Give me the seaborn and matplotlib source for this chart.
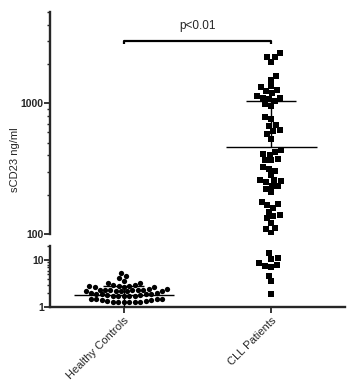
import matplotlib
matplotlib.use("Agg")
import pandas as pd
import matplotlib.pyplot as plt
from matplotlib.ticker import FuncFormatter, NullFormatter
import seaborn as sns

# Groups and values (ng/ml)
groups = ["Healthy Controls", "CLL Patients"]

healthy_values = [
    5.3, 4.6, 4.1, 3.6,
    3.2, 3.2, 3.0, 2.9, 2.8, 2.8, 2.7, 2.7, 2.7, 2.8,
    2.4, 2.35, 2.3, 2.25, 2.2, 2.2, 2.15, 2.15, 2.2, 2.25, 2.3, 2.35, 2.4,
    1.95, 1.9, 1.85, 1.8, 1.75, 1.7, 1.7, 1.7, 1.75, 1.8, 1.85, 1.9, 1.95,
    1.5, 1.45, 1.4, 1.35, 1.3, 1.28, 1.25, 1.25, 1.28, 1.3, 1.35, 1.4, 1.45, 1.5,
]

cll_values = [
    2420, 2260, 2250, 2070,
    1610, 1520, 1365, 1330, 1255, 1240, 1200, 1145, 1105, 1100, 1085, 1035, 990,
    950, 790, 765,
    680, 670, 622, 618, 587, 538,
    438, 425, 408, 406, 372, 367, 366,
    326, 313, 305,
    282, 258, 257, 256, 248, 234, 233, 221, 208,
    175, 169, 167, 159, 147, 140, 137, 132,
    121, 111, 109, 102,
    13.9, 10.9, 10.5, 8.5, 7.8, 7.6, 7.0, 4.6, 3.5, 1.9,
]

# Summary bars as drawn in the figure (mean line and upper error bar)
healthy_mean = 1.8
healthy_sd = 0.96
cll_mean = 467
cll_sd = 573

p_label = "p<0.01"
y_label = "sCD23 ng/ml"

top_range = (100, 5000)
bottom_range = (1, 20)

df = pd.DataFrame({
    "group": [groups[0]] * len(healthy_values) + [groups[1]] * len(cll_values),
    "value": healthy_values + cll_values,
})

sns.set_style("ticks")
plt.rcParams["font.family"] = ["Liberation Sans", "DejaVu Sans"]

fig = plt.figure(figsize=(3.53, 3.83), dpi=100)
ax_top = fig.add_axes([0.1416, 0.389, 0.8357, 0.5796])
ax_bot = fig.add_axes([0.1416, 0.1984, 0.8357, 0.1593])

for ax in (ax_top, ax_bot):
    ax.set_yscale("log")

top_df = df[df["value"] >= top_range[0]]
bot_df = df[df["value"] < bottom_range[1]]

markers = {groups[0]: "o", groups[1]: "s"}
sizes = {groups[0]: 3.8, groups[1]: 4.4}

for ax, sub in ((ax_top, top_df), (ax_bot, bot_df)):
    for g in groups:
        part = sub[sub["group"] == g]
        if part.empty:
            continue
        sns.swarmplot(data=part, x="group", y="value", order=groups,
                      marker=markers[g], size=sizes[g], color="black",
                      linewidth=0, ax=ax)

# mean / SD lines
line_kw = dict(color="black", lw=1, zorder=4)
ax_bot.hlines(healthy_mean, -0.34, 0.34, **line_kw)
ax_bot.vlines(0, healthy_mean - healthy_sd, healthy_mean + healthy_sd, **line_kw)
ax_bot.hlines(healthy_mean + healthy_sd, -0.14, 0.14, **line_kw)

ax_top.hlines(cll_mean, 1 - 0.31, 1 + 0.31, **line_kw)
ax_top.vlines(1, cll_mean, cll_mean + cll_sd, **line_kw)
ax_top.hlines(cll_mean + cll_sd, 1 - 0.17, 1 + 0.17, **line_kw)

# significance bracket
ax_top.plot([0, 0, 1, 1], [2830, 3000, 3000, 2830], color="black", lw=1.6,
            solid_capstyle="butt", clip_on=False)
ax_top.text(0.5, 3900, p_label, ha="center", va="center", fontsize=8.5)

# axes styling
ax_top.set_ylim(*top_range)
ax_bot.set_ylim(*bottom_range)
for ax in (ax_top, ax_bot):
    ax.set_xlim(-0.5, 1.5)
    ax.set_xlabel("")
    ax.set_ylabel("")
    ax.yaxis.set_major_formatter(FuncFormatter(lambda v, _: f"{v:g}"))
    ax.yaxis.set_minor_formatter(NullFormatter())
    ax.tick_params(axis="y", which="major", length=4, width=1.3, labelsize=7.5, pad=0.5)
    ax.tick_params(axis="y", which="minor", length=2.2, width=1.0)
    for lab in ax.get_yticklabels():
        lab.set_fontweight("bold")
    ax.spines["left"].set_linewidth(1.7)

sns.despine(ax=ax_top, bottom=True)
sns.despine(ax=ax_bot)
ax_top.tick_params(axis="x", which="both", bottom=False, labelbottom=False)

ax_bot.spines["bottom"].set_linewidth(1.7)
ax_bot.set_xticks([0, 1])
ax_bot.set_xticklabels(groups, rotation=45, ha="right", rotation_mode="anchor", fontsize=8)
ax_bot.tick_params(axis="x", length=4, width=1.3, pad=2)

fig.text(15 / 353, 1 - 160 / 383, y_label, rotation=90, ha="center", va="center", fontsize=8)

fig.savefig("out.png", dpi=100)
